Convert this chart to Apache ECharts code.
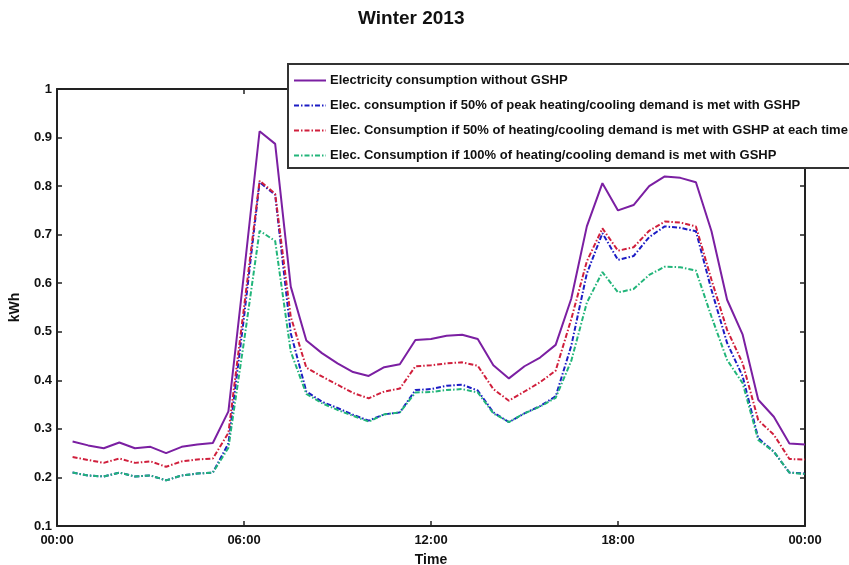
<!DOCTYPE html>
<html>
<head>
<meta charset="utf-8">
<script src="https://cdn.jsdelivr.net/npm/echarts@6/dist/echarts.min.js"></script>
<style>
html, body { margin: 0; padding: 0; background: #fff; }
#box { width: 849px; height: 565px; }
</style>
</head>
<body>
<div id="box"></div>
<script>
// half-hourly readings, 00:30 .. 24:00
var hours = [0.5, 1, 1.5, 2, 2.5, 3, 3.5, 4, 4.5, 5, 5.5, 6,
    6.5, 7, 7.5, 8, 8.5, 9, 9.5, 10, 10.5, 11, 11.5, 12,
    12.5, 13, 13.5, 14, 14.5, 15, 15.5, 16, 16.5, 17, 17.5, 18,
    18.5, 19, 19.5, 20, 20.5, 21, 21.5, 22, 22.5, 23, 23.5, 24];

var noGshp = [0.274, 0.266, 0.260, 0.272, 0.260, 0.263, 0.250, 0.263, 0.268, 0.271, 0.336, 0.620,
    0.913, 0.887, 0.593, 0.482, 0.456, 0.435, 0.417, 0.409, 0.427, 0.433, 0.483, 0.485,
    0.492, 0.494, 0.485, 0.431, 0.404, 0.429, 0.447, 0.473, 0.568, 0.717, 0.806, 0.750,
    0.761, 0.800, 0.820, 0.817, 0.808, 0.707, 0.566, 0.494, 0.360, 0.325, 0.270, 0.268];

var peak50 = [0.210, 0.204, 0.202, 0.210, 0.202, 0.204, 0.194, 0.204, 0.208, 0.210, 0.270, 0.530,
    0.808, 0.782, 0.497, 0.377, 0.356, 0.343, 0.329, 0.317, 0.330, 0.334, 0.380, 0.382,
    0.389, 0.391, 0.379, 0.334, 0.314, 0.332, 0.347, 0.367, 0.471, 0.620, 0.703, 0.648,
    0.656, 0.695, 0.717, 0.714, 0.707, 0.586, 0.477, 0.408, 0.281, 0.253, 0.210, 0.208];

var each50 = [0.242, 0.236, 0.230, 0.239, 0.230, 0.233, 0.222, 0.233, 0.237, 0.239, 0.292, 0.550,
    0.811, 0.784, 0.531, 0.426, 0.408, 0.391, 0.374, 0.363, 0.377, 0.383, 0.429, 0.431,
    0.435, 0.437, 0.430, 0.382, 0.358, 0.377, 0.396, 0.420, 0.526, 0.645, 0.713, 0.667,
    0.674, 0.708, 0.727, 0.725, 0.717, 0.607, 0.504, 0.435, 0.318, 0.288, 0.238, 0.237];

var full100 = [0.210, 0.204, 0.202, 0.210, 0.202, 0.204, 0.194, 0.204, 0.208, 0.210, 0.261, 0.480,
    0.708, 0.687, 0.459, 0.372, 0.353, 0.339, 0.327, 0.315, 0.330, 0.334, 0.375, 0.376,
    0.380, 0.382, 0.375, 0.332, 0.314, 0.332, 0.346, 0.364, 0.440, 0.560, 0.623, 0.581,
    0.588, 0.617, 0.634, 0.633, 0.626, 0.531, 0.442, 0.394, 0.277, 0.253, 0.210, 0.207];

var names = [
    'Electricity consumption without GSHP',
    'Elec. consumption if 50% of peak heating/cooling demand is met with GSHP',
    'Elec. Consumption if 50% of heating/cooling demand is met with GSHP at each time',
    'Elec. Consumption if 100% of heating/cooling demand is met with GSHP'
];

var font = "'Liberation Sans', Arial, sans-serif";

function pairs(arr) {
    return hours.map(function (h, i) { return [h, arr[i]]; });
}

function timeLabel(v) {
    var h = v % 24;
    return (h < 10 ? '0' : '') + h + ':00';
}

var myChart = echarts.init(document.getElementById('box'));

// box round the plot, ticks pointing in
var axisLine = { show: true, onZero: false, lineStyle: { color: '#222', width: 2 } };
var tick = { show: true, inside: true, length: 5, lineStyle: { color: '#222', width: 1.5 } };
var dashDot = [5, 2, 1.5, 2];

var option = {
    animation: false,
    backgroundColor: '#fff',
    title: {
        text: 'Winter 2013',
        left: 353,
        top: 4,
        textStyle: { fontFamily: font, fontSize: 19, fontWeight: 'bold', color: '#111' }
    },
    grid: {
        left: 57,
        right: 44,
        top: 89,
        bottom: 39,
        outerBoundsMode: 'none'
    },
    legend: {
        orient: 'vertical',
        left: 288,
        top: 64,
        padding: [10, 40, 6, 5],
        itemGap: 12,
        itemWidth: 32,
        itemHeight: 13,
        backgroundColor: '#fff',
        borderColor: '#333',
        borderWidth: 2,
        borderRadius: 0,
        itemStyle: { opacity: 0 },
        textStyle: { fontFamily: font, fontSize: 13, fontWeight: 'bold', color: '#111', padding: [0, 0, 0, -1] },
        data: names
    },
    xAxis: [{
        type: 'value',
        min: 0,
        max: 24,
        interval: 6,
        position: 'bottom',
        name: 'Time',
        nameLocation: 'middle',
        nameGap: 27,
        nameTextStyle: { fontFamily: font, fontSize: 14, fontWeight: 'bold', color: '#111' },
        axisLine: axisLine,
        axisTick: tick,
        splitLine: { show: false },
        axisLabel: {
            margin: 8,
            formatter: timeLabel,
            fontFamily: font, fontSize: 13, fontWeight: 'bold', color: '#111'
        }
    }, {
        type: 'value',
        min: 0,
        max: 24,
        interval: 6,
        position: 'top',
        axisLine: axisLine,
        axisTick: tick,
        splitLine: { show: false },
        axisLabel: { show: false }
    }],
    yAxis: [{
        type: 'value',
        min: 0.1,
        max: 1,
        interval: 0.1,
        position: 'left',
        name: 'kWh',
        nameLocation: 'middle',
        nameGap: 35,
        nameTextStyle: { fontFamily: font, fontSize: 14, fontWeight: 'bold', color: '#111' },
        axisLine: axisLine,
        axisTick: tick,
        splitLine: { show: false },
        axisLabel: {
            margin: 5,
            formatter: function (v) { return String(Math.round(v * 10) / 10); },
            fontFamily: font, fontSize: 13, fontWeight: 'bold', color: '#111'
        }
    }, {
        type: 'value',
        min: 0.1,
        max: 1,
        interval: 0.1,
        position: 'right',
        axisLine: axisLine,
        axisTick: tick,
        splitLine: { show: false },
        axisLabel: { show: false }
    }],
    series: [
        {
            name: names[0],
            type: 'line',
            symbol: 'none',
            data: pairs(noGshp),
            lineStyle: { color: '#7b1fa2', width: 2, type: 'solid' },
            itemStyle: { color: '#7b1fa2' }
        },
        {
            name: names[1],
            type: 'line',
            symbol: 'none',
            data: pairs(peak50),
            lineStyle: { color: '#1c1cc4', width: 2, type: dashDot },
            itemStyle: { color: '#1c1cc4' }
        },
        {
            name: names[2],
            type: 'line',
            symbol: 'none',
            data: pairs(each50),
            lineStyle: { color: '#d01f3c', width: 2, type: dashDot },
            itemStyle: { color: '#d01f3c' }
        },
        {
            name: names[3],
            type: 'line',
            symbol: 'none',
            data: pairs(full100),
            lineStyle: { color: '#22b57a', width: 2, type: dashDot },
            itemStyle: { color: '#22b57a' }
        }
    ]
};

myChart.setOption(option);
</script>
</body>
</html>
